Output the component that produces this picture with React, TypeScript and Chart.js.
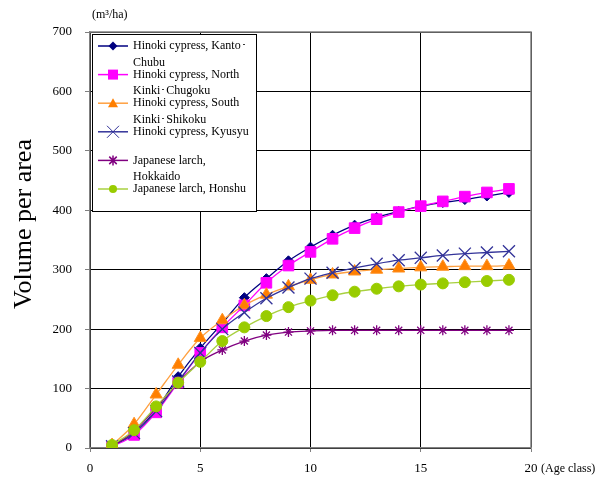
import React, { useEffect, useRef } from "react";
import { Chart, registerables } from "chart.js";

Chart.register(...registerables);

const ageClasses = [1, 2, 3, 4, 5, 6, 7, 8, 9, 10, 11, 12, 13, 14, 15, 16, 17, 18, 19];
const hinokiKantoChubu = [3, 25, 65, 120, 168, 210, 253, 285, 315, 338, 358, 375, 388, 398, 407, 413, 418, 424, 430];
const hinokiNorthKinkiChugoku = [2, 22, 60, 110, 160, 203, 240, 278, 307, 330, 352, 370, 385, 397, 407, 415, 423, 430, 436];
const hinokiSouthKinkiShikoku = [5, 40, 90, 140, 185, 215, 240, 258, 272, 283, 292, 297, 300, 302, 304, 305, 306, 306, 307];
const hinokiKyusyu = [3, 25, 62, 112, 160, 200, 228, 252, 270, 285, 295, 303, 310, 316, 320, 324, 327, 329, 331];
const larchHokkaido = [3, 28, 68, 110, 145, 165, 180, 190, 195, 197, 198, 198, 198, 198, 198, 198, 198, 198, 198];
const larchHonshu = [5, 30, 70, 110, 145, 180, 203, 222, 237, 248, 257, 263, 268, 272, 275, 277, 279, 281, 283];

const seriesLabels = [
  ["Hinoki cypress, Kanto･", "Chubu"],
  ["Hinoki cypress, North", "Kinki･Chugoku"],
  ["Hinoki cypress, South", "Kinki･Shikoku"],
  ["Hinoki cypress, Kyusyu", ""],
  ["Japanese larch,", "Hokkaido"],
  ["Japanese larch, Honshu", ""],
];
const yTitle = "Volume per area";
const yUnit = "(m³/ha)";
const xUnit = "(Age class)";

const SERIF = '"Liberation Serif", "Times New Roman", serif';

type Style = {
  values: number[];
  line: string;
  fill: string;
  stroke: string;
  point: string;
  radius: number;
  legendRadius: number;
};

const styles: Style[] = [
  { values: hinokiKantoChubu, line: "#000080", fill: "#000080", stroke: "#000080", point: "rectRot", radius: 5, legendRadius: 4.5 },
  { values: hinokiNorthKinkiChugoku, line: "#FF00FF", fill: "#FF00FF", stroke: "#FF00FF", point: "rect", radius: 7.5, legendRadius: 5 },
  { values: hinokiSouthKinkiShikoku, line: "#FFA040", fill: "#FF7F00", stroke: "#FF9020", point: "triangle", radius: 7, legendRadius: 5 },
  { values: hinokiKyusyu, line: "#333399", fill: "#333399", stroke: "#333399", point: "crossRot", radius: 8.5, legendRadius: 6 },
  { values: larchHokkaido, line: "#800080", fill: "#800080", stroke: "#800080", point: "star", radius: 5, legendRadius: 5 },
  { values: larchHonshu, line: "#A8D040", fill: "#99CC00", stroke: "#99CC00", point: "circle", radius: 5.5, legendRadius: 4 },
];

function drawMarker(ctx: CanvasRenderingContext2D, style: string, x: number, y: number, r: number, fill: string, stroke: string) {
  ctx.save();
  ctx.fillStyle = fill;
  ctx.strokeStyle = stroke;
  ctx.lineWidth = 1;
  ctx.beginPath();
  if (style === "rectRot") {
    ctx.moveTo(x, y - r);
    ctx.lineTo(x + r, y);
    ctx.lineTo(x, y + r);
    ctx.lineTo(x - r, y);
    ctx.closePath();
    ctx.fill();
  } else if (style === "rect") {
    ctx.rect(x - r, y - r, 2 * r, 2 * r);
    ctx.fill();
  } else if (style === "triangle") {
    ctx.moveTo(x, y - r);
    ctx.lineTo(x + r, y + r * 0.8);
    ctx.lineTo(x - r, y + r * 0.8);
    ctx.closePath();
    ctx.fill();
  } else if (style === "crossRot") {
    ctx.moveTo(x - r, y - r);
    ctx.lineTo(x + r, y + r);
    ctx.moveTo(x - r, y + r);
    ctx.lineTo(x + r, y - r);
    ctx.stroke();
  } else if (style === "star") {
    const d = r * 0.75;
    ctx.lineWidth = 1.5;
    ctx.moveTo(x, y - r);
    ctx.lineTo(x, y + r);
    ctx.moveTo(x - d, y - d);
    ctx.lineTo(x + d, y + d);
    ctx.moveTo(x - d, y + d);
    ctx.lineTo(x + d, y - d);
    ctx.stroke();
  } else {
    ctx.arc(x, y, r, 0, Math.PI * 2);
    ctx.fill();
  }
  ctx.restore();
}

export default function App() {
  const ref = useRef<HTMLCanvasElement>(null);

  useEffect(() => {
    if (!ref.current) return;

    const decor = {
      id: "decor",
      afterDraw(chart: any) {
        const ctx: CanvasRenderingContext2D = chart.ctx;
        const a = chart.chartArea;
        ctx.save();
        // frame
        ctx.strokeStyle = "#808080";
        ctx.lineWidth = 1.5;
        ctx.beginPath();
        ctx.moveTo(a.left, a.top);
        ctx.lineTo(a.right, a.top);
        ctx.lineTo(a.right, a.bottom);
        ctx.stroke();

        // legend
        const lx = 92.5, ly = 34.5, lw = 164, lh = 177;
        ctx.fillStyle = "#fff";
        ctx.fillRect(lx, ly, lw, lh);
        ctx.strokeStyle = "#000";
        ctx.lineWidth = 1;
        ctx.strokeRect(lx, ly, lw, lh);
        ctx.font = `12px ${SERIF}`;
        ctx.textBaseline = "middle";
        ctx.textAlign = "left";
        styles.forEach((s, i) => {
          const y = 46 + i * 28.6;
          ctx.strokeStyle = s.line;
          ctx.lineWidth = 1.5;
          ctx.beginPath();
          ctx.moveTo(98, y);
          ctx.lineTo(128, y);
          ctx.stroke();
          drawMarker(ctx, s.point, 113, y, s.legendRadius, s.fill, s.stroke);
          ctx.fillStyle = "#000";
          ctx.fillText(seriesLabels[i][0], 133, y);
          if (seriesLabels[i][1]) ctx.fillText(seriesLabels[i][1], 133, y + 16.5);
        });

        // titles
        ctx.fillStyle = "#000";
        ctx.font = `26px ${SERIF}`;
        ctx.textAlign = "center";
        ctx.textBaseline = "alphabetic";
        ctx.save();
        ctx.translate(31, 224);
        ctx.rotate(-Math.PI / 2);
        ctx.fillText(yTitle, 0, 0);
        ctx.restore();

        ctx.font = `12px ${SERIF}`;
        ctx.textAlign = "left";
        ctx.textBaseline = "middle";
        ctx.fillText(yUnit, 92, 15);
        ctx.fillText(xUnit, 541, 469);
        ctx.restore();
      },
    };

    const chart = new Chart(ref.current, {
      type: "line",
      data: {
        datasets: styles.map((s, i) => ({
          label: seriesLabels[i].join(" "),
          data: ageClasses.map((x, j) => ({ x, y: s.values[j] })),
          borderColor: s.line,
          borderWidth: 1.3,
          backgroundColor: s.fill,
          pointBackgroundColor: s.fill,
          pointBorderColor: s.stroke,
          pointBorderWidth: s.point === "crossRot" || s.point === "star" ? 1.3 : 1,
          pointStyle: s.point as any,
          pointRadius: s.radius,
          cubicInterpolationMode: "monotone" as const,
          fill: false,
          order: styles.length - i,
        })),
      },
      options: {
        responsive: false,
        animation: false,
        events: [],
        layout: { padding: { left: 0, top: 32, right: 71, bottom: 0 } },
        plugins: { legend: { display: false }, tooltip: { enabled: false } },
        scales: {
          x: {
            type: "linear",
            min: 0,
            max: 20,
            ticks: { stepSize: 5, color: "#000", font: { family: SERIF, size: 13 }, padding: 9, maxRotation: 0 },
            grid: { color: "#000", lineWidth: 1, tickColor: "#808080", tickLength: 4 },
            border: { color: "#808080", width: 1.5 },
            afterFit: (s: any) => { s.height = 31; },
          },
          y: {
            type: "linear",
            min: 0,
            max: 700,
            ticks: { stepSize: 100, color: "#000", font: { family: SERIF, size: 13 }, padding: 13 },
            grid: { color: "#000", lineWidth: 1, tickColor: "#808080", tickLength: 5 },
            border: { color: "#808080", width: 1.5 },
            afterFit: (s: any) => { s.width = 90; },
          },
        },
      },
      plugins: [decor],
    });
    return () => chart.destroy();
  }, []);

  return (
    <div style={{ position: "fixed", left: 0, top: 0, width: 602, height: 479, background: "#fff" }}>
      <canvas ref={ref} width={602} height={479} style={{ display: "block" }} />
    </div>
  );
}
